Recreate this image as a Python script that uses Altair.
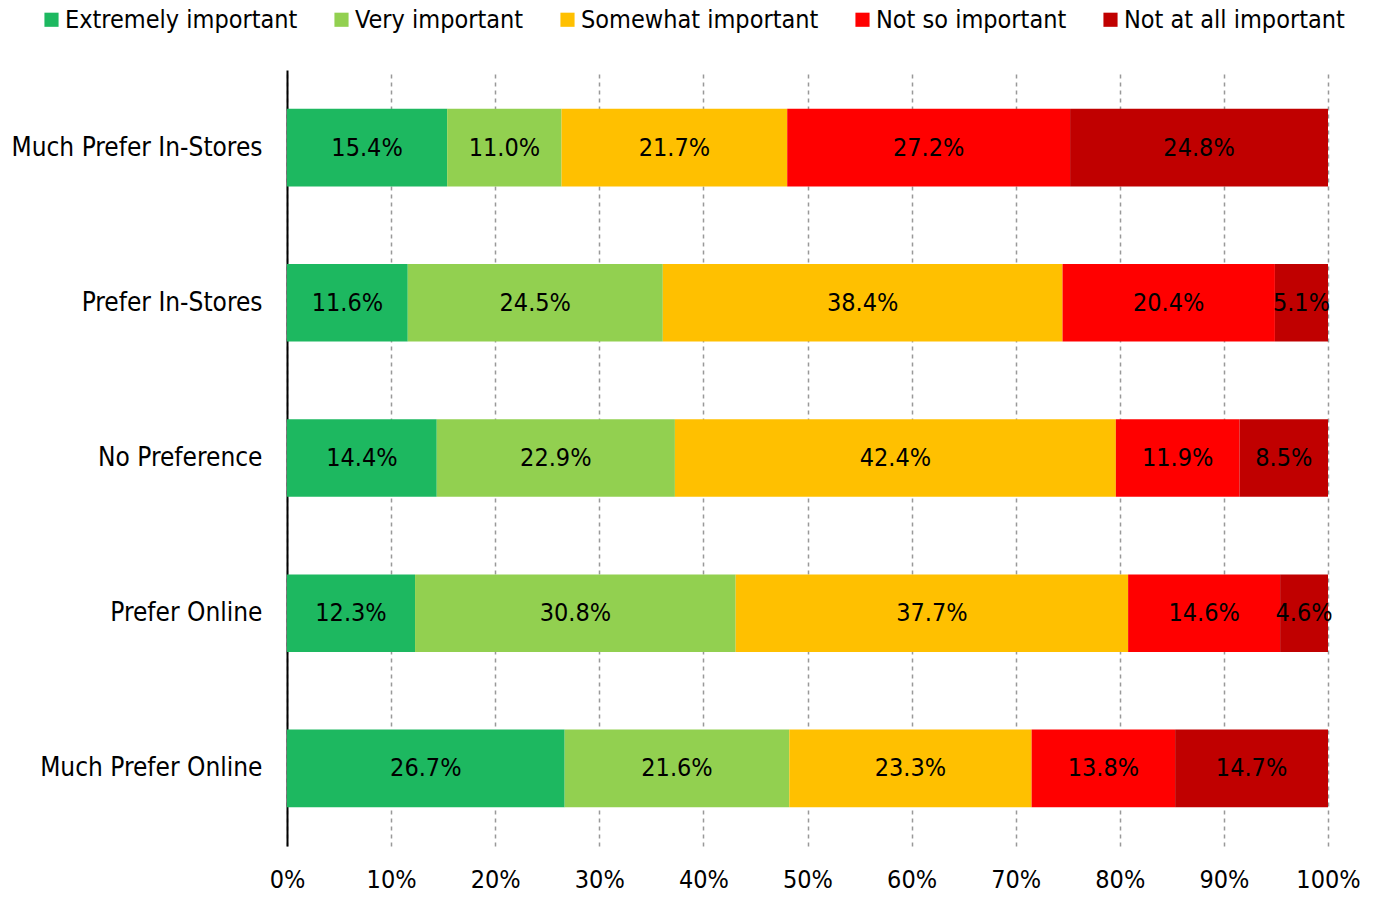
import altair as alt
import pandas as pd

categories = ["Much Prefer In-Stores", "Prefer In-Stores", "No Preference", "Prefer Online", "Much Prefer Online"]
levels = ["Extremely important", "Very important", "Somewhat important", "Not so important", "Not at all important"]
extremely = [15.4, 11.6, 14.4, 12.3, 26.7]
very = [11.0, 24.5, 22.9, 30.8, 21.6]
somewhat = [21.7, 38.4, 42.4, 37.7, 23.3]
not_so = [27.2, 20.4, 11.9, 14.6, 13.8]
not_at_all = [24.8, 5.1, 8.5, 4.6, 14.7]
colors = ["#1DB860", "#92D050", "#FFC000", "#FF0000", "#C00000"]
tick_values = [0, 0.1, 0.2, 0.3, 0.4, 0.5, 0.6, 0.7, 0.8, 0.9, 1.0]

FONT = "DejaVu Sans Condensed, DejaVu Sans"

rows = []
for li, (lev, vals) in enumerate(zip(levels, [extremely, very, somewhat, not_so, not_at_all])):
    for c, v in zip(categories, vals):
        rows.append({"category": c, "level": lev, "order": li, "value": v})
df = pd.DataFrame(rows)

base = alt.Chart(df).transform_stack(
    stack="value",
    as_=["x0", "x1"],
    groupby=["category"],
    sort=[alt.SortField("order")],
    offset="normalize",
).transform_calculate(
    mid="(datum.x0 + datum.x1) / 2",
    label="format(datum.value, '.1f') + '%'",
)

y_enc = alt.Y(
    "category:N",
    sort=categories,
    title=None,
    scale=alt.Scale(paddingInner=0.5, paddingOuter=0.25),
    axis=alt.Axis(
        ticks=False,
        domainColor="black",
        domainWidth=2,
        labelFontSize=26,
        labelFont=FONT,
        labelColor="black",
        labelPadding=25,
        labelLimit=400,
        grid=False,
    ),
)

bars = base.mark_bar().encode(
    x=alt.X(
        "x0:Q",
        title=None,
        scale=alt.Scale(domain=[0, 1]),
        axis=alt.Axis(
            values=tick_values,
            format=".0%",
            domain=False,
            ticks=False,
            grid=True,
            gridColor="#999999",
            gridDash=[4, 4],
            gridWidth=1.5,
            labelFontSize=25,
            labelFont=FONT,
            labelColor="black",
            labelPadding=21,
            labelFlush=False,
            labelOverlap=False,
        ),
    ),
    x2="x1:Q",
    y=y_enc,
    color=alt.Color(
        "level:N",
        scale=alt.Scale(domain=levels, range=colors),
        legend=alt.Legend(
            title=None,
            orient="none",
            legendX=-248,
            legendY=-63,
            direction="horizontal",
            columns=5,
            symbolType="square",
            symbolSize=200,
            symbolStrokeWidth=0,
            symbolOpacity=1,
            labelFontSize=25,
            labelFont=FONT,
            labelColor="black",
            labelLimit=400,
            labelOffset=1,
            columnPadding=31,
        ),
    ),
    order=alt.Order("order:Q"),
)

text = base.mark_text(fontSize=25, font=FONT, color="black").encode(
    x=alt.X("mid:Q"),
    y=alt.Y("category:N", sort=categories),
    text="label:N",
)

chart = (
    alt.layer(bars, text)
    .properties(
        width=1041,
        height=776,
        autosize=alt.AutoSizeParams(type="none"),
        padding={"left": 279, "top": 62, "right": 41, "bottom": 46},
        background="white",
    )
    .configure_view(strokeWidth=0, stroke="transparent")
)

chart.save("out.html", embed_options={"renderer": "svg", "actions": False})
